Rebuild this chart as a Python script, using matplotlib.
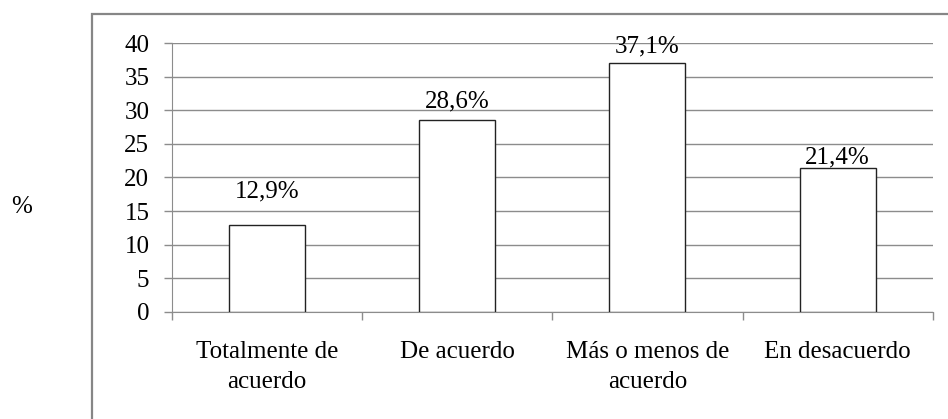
import matplotlib.pyplot as plt
from matplotlib.patches import Rectangle

categories = ["Totalmente de\nacuerdo", "De acuerdo", "Más o menos de\nacuerdo", "En desacuerdo"]
values = [12.9, 28.6, 37.1, 21.4]
labels = ["12,9%", "28,6%", "37,1%", "21,4%"]
yticks = [0, 5, 10, 15, 20, 25, 30, 35, 40]

# baseline lift of each value label above its bar, in points (Excel placed them unevenly)
label_lift = [20, 8.5, 7, 3.5]

plt.rcParams["font.family"] = ["Liberation Serif", "DejaVu Serif"]
grid_col = "#8c8c8c"
fs = 18

fig = plt.figure(figsize=(9.48, 4.19), dpi=100)
ax = fig.add_axes([0.181, 0.256, 0.803, 0.641])

x = range(len(categories))
ax.bar(x, values, width=0.4, color="white", edgecolor="#222222", linewidth=1.0, zorder=3)

for i, v in enumerate(values):
    ax.annotate(labels[i], (i, v), xytext=(0, label_lift[i]), textcoords="offset points",
                ha="center", va="baseline", fontsize=fs, zorder=4)

ax.set_xlim(-0.5, len(categories) - 0.5)
ax.set_ylim(0, 40)
ax.set_yticks(yticks)
ax.set_yticklabels([str(t) for t in yticks], fontsize=fs)
ax.yaxis.grid(True, color=grid_col, linewidth=1.0, zorder=0)

# category ticks sit between bars
ax.set_xticks([i - 0.5 for i in range(len(categories) + 1)], minor=True)
ax.set_xticks(list(x))
ax.set_xticklabels(categories, fontsize=fs, linespacing=1.45)
ax.tick_params(axis="x", which="major", length=0, pad=21)
ax.tick_params(axis="x", which="minor", length=6, color=grid_col, width=1.0)
ax.tick_params(axis="y", length=6, color=grid_col, width=1.0, pad=10)

for s in ["top", "right"]:
    ax.spines[s].set_visible(False)
ax.spines["left"].set_color(grid_col)
ax.spines["bottom"].set_color(grid_col)

fig.text(22 / 948, 1 - 207 / 419, "%", fontsize=fs, ha="center", va="center")

# outer chart frame (runs past the image edges on right and bottom)
fig.patches.append(Rectangle((92 / 948, -0.1), 1.0, 1.0 - 14 / 419 + 0.1,
                             transform=fig.transFigure, fill=False,
                             edgecolor="#868686", linewidth=1.6))

fig.savefig("out.png", dpi=100)
